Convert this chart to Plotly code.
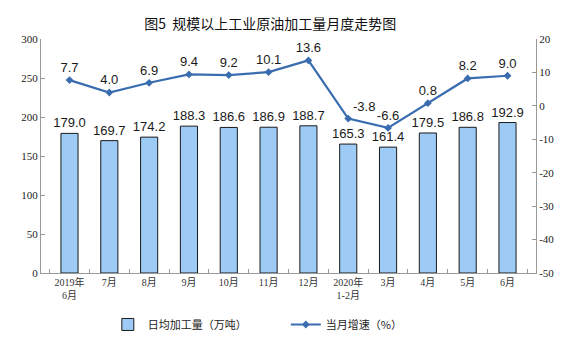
import plotly.graph_objects as go

categories = ["2019年<br>6月", "7月", "8月", "9月", "10月", "11月", "12月",
              "2020年<br>1-2月", "3月", "4月", "5月", "6月"]
daily_output = [179.0, 169.7, 174.2, 188.3, 186.6, 186.9, 188.7, 165.3, 161.4, 179.5, 186.8, 192.9]
monthly_growth = [7.7, 4.0, 6.9, 9.4, 9.2, 10.1, 13.6, -3.8, -6.6, 0.8, 8.2, 9.0]
left_ticks = [0, 50, 100, 150, 200, 250, 300]
right_ticks = [-50, -40, -30, -20, -10, 0, 10, 20]

# label placement style for the growth line (one label nudged right to clear the line)
growth_label_pos = ["top center"] * 7 + ["top right"] + ["top center"] * 4

fig = go.Figure()
fig.add_trace(go.Bar(
    x=categories, y=daily_output, name="日均加工量（万吨）",
    marker=dict(color="#9DCBF5", line=dict(color="#1A1A1A", width=1)),
    width=0.43,
    text=[f"{v:.1f}" for v in daily_output], textposition="outside",
    constraintext="none",
    textfont=dict(family="Liberation Sans, Arial", size=13, color="#1A1A1A"),
    cliponaxis=False,
))
fig.add_trace(go.Scatter(
    x=categories, y=monthly_growth, name="当月增速（%）", yaxis="y2",
    mode="lines+markers+text",
    line=dict(color="#3A6DB0", width=2.2),
    marker=dict(symbol="diamond", size=6, color="#3A6DB0"),
    text=[f"{v:.1f}" for v in monthly_growth], textposition=growth_label_pos,
    textfont=dict(family="Liberation Sans, Arial", size=13, color="#1A1A1A"),
    cliponaxis=False,
))

fig.update_layout(
    width=564, height=357,
    margin=dict(l=33, r=36, t=31, b=92, autoexpand=False),
    paper_bgcolor="white", plot_bgcolor="white",
    title=dict(text="图5  规模以上工业原油加工量月度走势图", x=0.465, xanchor="center", y=0.955, yanchor="middle",
               font=dict(family="Noto Sans CJK SC", size=14, color="#111")),
    showlegend=True,
    legend=dict(orientation="h", x=0.135, xanchor="left", y=-0.22, yanchor="middle",
                font=dict(family="Noto Sans CJK SC", size=11, color="#222"),
                entrywidth=133, itemwidth=30),
    bargap=0.57,
    xaxis=dict(type="category", showline=True, linecolor="#999", linewidth=1,
               ticks="inside", ticklen=4, tickcolor="#999", tickson="boundaries",
               tickangle=0,
               tickfont=dict(family="Liberation Serif, Noto Sans CJK SC", size=10, color="#333"),
               showgrid=False),
    yaxis=dict(range=[0, 300], tickvals=left_ticks, showline=True, linecolor="#999", linewidth=1,
               ticks="inside", ticklen=4, tickcolor="#999", showgrid=False, zeroline=False,
               tickfont=dict(family="Liberation Serif, Times New Roman", size=11, color="#222")),
    yaxis2=dict(range=[-50, 20], tickvals=right_ticks, ticktext=[str(v) for v in right_ticks],
                overlaying="y", side="right",
                showline=True, linecolor="#999", linewidth=1,
                ticks="inside", ticklen=4, tickcolor="#999", showgrid=False, zeroline=False,
                tickfont=dict(family="Liberation Serif, Times New Roman", size=11, color="#222")),
)

fig.write_html("out.html")
